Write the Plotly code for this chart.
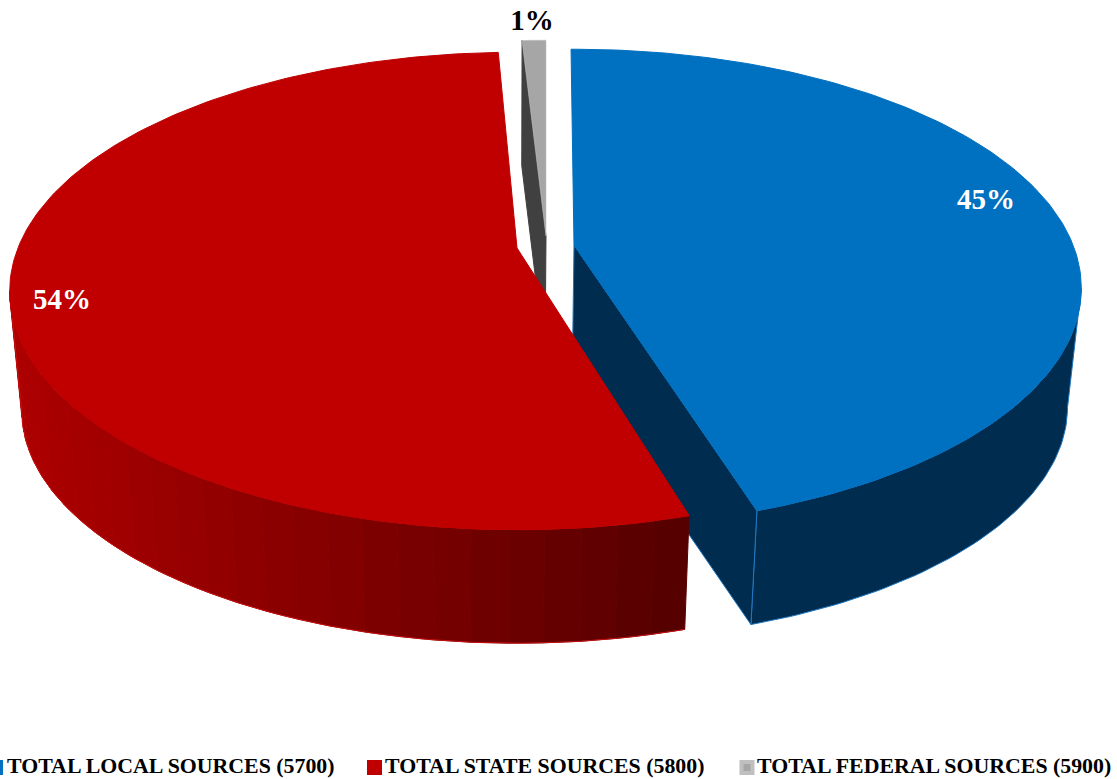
import math
import plotly.graph_objects as go

# ---- data ----
categories = ["TOTAL LOCAL SOURCES (5700)", "TOTAL STATE SOURCES (5800)", "TOTAL FEDERAL SOURCES (5900)"]
shares = [45.2, 53.9, 0.9]
labels = ["45%", "54%", "1%"]

# ---- styling / projection parameters ----
top_colors = ["#0070C0", "#C00000", "#A6A6A6"]
wall_colors = ["#002C4F", "#8a0000", "#404040"]
apexes = [(574, 245), (517, 248), (546, 236)]   # exploded slice centres
slice_turn = [-0.4, 0.7, 0.0]                   # small per-slice turn of the drawing
A, B, K = 499.0, 231.0, 0.18                    # perspective circle
VP, SHRINK = (508.0, 5258.0), 0.976             # vanishing point of the extrusion
label_pos = [(986, 202), (62, 302), (532, 23)]
label_colors = ["white", "white", "black"]
legend_marker_x = [-4.5, 374.5, 747]
legend_text_x = [7, 385, 757]
LEGEND_Y = 768
SERIF = "Liberation Serif"


def rim(apex, deg):
    t = math.radians(deg)
    u, v = math.sin(t), -math.cos(t)
    w = 1 - K * v
    return apex[0] + A * u / w, apex[1] + B * v / w


def drop(p):
    return VP[0] + (p[0] - VP[0]) * SHRINK, VP[1] + (p[1] - VP[1]) * SHRINK


def arc(apex, a0, a1, step=1.0):
    n = max(2, int(abs(a1 - a0) / step) + 1)
    return [rim(apex, a0 + (a1 - a0) * i / (n - 1)) for i in range(n)]


def poly(points, fill, line=None, width=1.0):
    xs = [p[0] for p in points] + [points[0][0]]
    ys = [p[1] for p in points] + [points[0][1]]
    return go.Scatter(x=xs, y=ys, mode="lines", fill="toself", fillcolor=fill,
                      line=dict(color=line or fill, width=width),
                      hoverinfo="skip", showlegend=False)


def red_shade(x):
    f = min(1.0, max(0.0, (x - 20) / 665))
    return f"rgb({round(172 - 87 * f)},0,0)"


total = sum(shares)
spans = []
start = 0.0
for s, turn in zip(shares, slice_turn):
    end = start + 360 * s / total
    spans.append((start + turn, end + turn))
    start = end

fig = go.Figure()

# federal slice: cut wall then top
(a0, a1), ap = spans[2], apexes[2]
p0 = rim(ap, a0)
fig.add_trace(poly([ap, p0, drop(p0), drop(ap)], wall_colors[2]))
fig.add_trace(poly([ap] + arc(ap, a0, a1), top_colors[2], "#BFBFBF", 0.6))

# local slice: outer wall (from its tangent point), cut wall, top
(a0, a1), ap = spans[0], apexes[0]
outer = arc(ap, a0, a1)
front = arc(ap, 100.4, a1)
fig.add_trace(poly(front + [drop(p) for p in reversed(front)], wall_colors[0], "#1F78C0", 1.0))
pe = rim(ap, a1)
fig.add_trace(poly([ap, pe, drop(pe), drop(ap)], wall_colors[0], "#1F78C0", 1.0))
fig.add_trace(poly([ap] + outer, top_colors[0], top_colors[0], 1.0))

# state slice: banded outer wall, top
(a0, a1), ap = spans[1], apexes[1]
band = 3.5
LAST = 259.6
d = a0
while d < LAST:
    e = min(d + band, LAST)
    seg = arc(ap, d, e, 0.5)
    quad = seg + [drop(p) for p in reversed(seg)]
    fig.add_trace(poly(quad, red_shade(sum(p[0] for p in seg) / len(seg))))
    d = e
edge = arc(ap, a0, LAST)
fig.add_trace(go.Scatter(x=[p[0] for p in edge] + [drop(p)[0] for p in reversed(edge)],
                         y=[p[1] for p in edge] + [drop(p)[1] for p in reversed(edge)],
                         mode="lines", line=dict(color="#C81010", width=1),
                         hoverinfo="skip", showlegend=False))
fig.add_trace(poly([ap] + arc(ap, a0, a1), top_colors[1], top_colors[1], 1.0))

# percentage labels
for txt, pos, col in zip(labels, label_pos, label_colors):
    fig.add_trace(go.Scatter(x=[pos[0]], y=[pos[1]], mode="text", text=[txt],
                             textposition="middle center",
                             textfont=dict(family=SERIF, size=29, color=col, weight="bold"),
                             hoverinfo="skip", showlegend=False))

# legend row
shapes = []
swatch_fill = ["#0070C0", "#C00000", "#BFBFBF"]
for name, col, mx, tx in zip(categories, swatch_fill, legend_marker_x, legend_text_x):
    shapes.append(dict(type="rect", xref="x", yref="y", x0=mx - 7.5, x1=mx + 7.5,
                       y0=LEGEND_Y - 8, y1=LEGEND_Y + 7, fillcolor=col, line=dict(width=0)))
    fig.add_trace(go.Scatter(x=[tx], y=[LEGEND_Y], mode="text", text=[name],
                             textposition="middle right", cliponaxis=False,
                             textfont=dict(family=SERIF, size=21.85, color="black", weight="bold"),
                             hoverinfo="skip", showlegend=False))
mx = legend_marker_x[2]
shapes.append(dict(type="rect", xref="x", yref="y", x0=mx - 3.5, x1=mx + 3.5,
                   y0=LEGEND_Y - 4, y1=LEGEND_Y + 3, fillcolor="#A6A6A6", line=dict(width=0)))

fig.update_layout(
    width=1117, height=779, margin=dict(l=0, r=0, t=0, b=0),
    paper_bgcolor="white", plot_bgcolor="white", showlegend=False, shapes=shapes,
    xaxis=dict(range=[0, 1117], visible=False, fixedrange=True),
    yaxis=dict(range=[779, 0], visible=False, fixedrange=True),
)
fig.write_html("out.html", config=dict(displayModeBar=False),
               post_script="document.body.style.margin='0';document.documentElement.style.overflow='hidden';")
